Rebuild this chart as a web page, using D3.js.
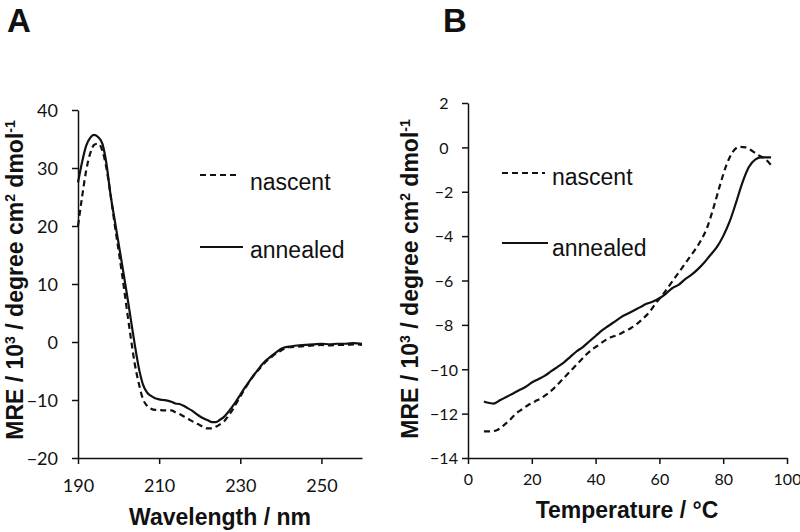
<!DOCTYPE html>
<html><head><meta charset="utf-8">
<script src="https://cdn.jsdelivr.net/npm/d3@7"></script>
<style>body{margin:0;background:#fff}svg{display:block}</style>
</head><body><svg id="c" width="800" height="532"></svg>
<script>
// ---------- Panel A: CD spectra ----------
const wavelengthA = [190,191,192,193,194,195,196,197,198,199,200,201,202,203,204,205,206,207,208,209,
  210,211,212,213,214,215,216,217,218,219,220,221,222,223,224,225,226,227,228,229,
  230,231,232,233,234,235,236,237,238,239,240,241,242,244,246,248,250,252,254,256,258,260];
const annealedA = [27.5,31,33.8,35.2,35.7,35.3,34.2,30.8,25.5,21.2,17,12.8,8.5,4,-0.5,-4.5,-7.3,-8.7,-9.3,-9.7,
  -9.9,-10,-10.1,-10.3,-10.6,-10.7,-11,-11.4,-11.8,-12.3,-12.8,-13.2,-13.5,-13.8,-13.8,-13.4,-12.9,-12.1,-11.2,-10.2,
  -9.1,-8,-7,-6,-5.1,-4.2,-3.4,-2.8,-2.2,-1.7,-1.2,-0.9,-0.8,-0.6,-0.5,-0.4,-0.3,-0.4,-0.3,-0.3,-0.2,-0.3];
const nascentA = [20,25,29.5,32.5,34,34.2,33,30,25.5,20.5,15.8,11,5.8,0.8,-3.8,-7.2,-9.8,-11,-11.5,-11.7,
  -11.7,-11.8,-11.8,-11.8,-12.1,-12.4,-12.8,-13.2,-13.6,-14,-14.3,-14.7,-14.9,-14.9,-14.6,-14.2,-13.7,-12.8,-11.8,-10.6,
  -9.4,-8.2,-7.1,-6.1,-5.2,-4.4,-3.6,-3,-2.4,-1.9,-1.5,-1.1,-0.9,-0.8,-0.7,-0.6,-0.5,-0.6,-0.5,-0.5,-0.4,-0.5];
const xTicksA = [190,210,230,250];
const yTicksA = [-20,-10,0,10,20,30,40];

// ---------- Panel B: thermal melt ----------
const tempAnnealedB = [5,6,8,10,12,14,16,18,20,22,24,26,28,30,32,34,36,38,40,42,44,46,48,50,
  52,54,56,58,60,62,64,66,68,70,72,74,76,78,80,82,84,86,88,90,92,94,95];
const annealedB = [-11.45,-11.5,-11.55,-11.4,-11.25,-11.1,-10.95,-10.8,-10.6,-10.45,-10.3,-10.1,-9.9,-9.7,-9.45,-9.2,-9.0,-8.75,-8.5,-8.25,-8.05,-7.85,-7.65,-7.5,
  -7.35,-7.2,-7.05,-6.95,-6.8,-6.6,-6.35,-6.2,-5.95,-5.75,-5.5,-5.2,-4.85,-4.5,-4.0,-3.35,-2.5,-1.6,-0.9,-0.55,-0.45,-0.45,-0.45];
const tempNascentB = [5,7,9,11,13,15,17,19,21,23,25,27,29,31,33,35,37,39,41,43,45,47,49,51,
  53,55,57,59,61,63,65,67,69,71,73,75,77,79,81,83,85,87,89,91,93,95];
const nascentB = [-12.8,-12.8,-12.75,-12.55,-12.3,-12.0,-11.8,-11.6,-11.45,-11.3,-11.1,-10.85,-10.55,-10.25,-9.95,-9.65,-9.35,-9.1,-8.9,-8.7,-8.55,-8.45,-8.3,-8.15,
  -7.95,-7.7,-7.4,-7.0,-6.65,-6.25,-5.85,-5.45,-5.05,-4.65,-4.2,-3.6,-2.7,-1.7,-0.8,-0.2,0.02,0.0,-0.15,-0.35,-0.5,-0.8];
const xTicksB = [0,20,40,60,80,100];
const yTicksB = [-14,-12,-10,-8,-6,-4,-2,0,2];

const seriesNames = ["nascent","annealed"];

const svg = d3.select("#c");
const INK = "#111";
const tickFont = "Lato, 'Open Sans', sans-serif";
const boldFont = "'Liberation Sans', Arial, sans-serif";

function yTitle(g, x, y) {
  const t = g.append("text").attr("transform", `translate(${x},${y}) rotate(-90)`)
    .attr("text-anchor","middle").attr("font-family", boldFont).attr("font-weight","bold")
    .attr("font-size", 23).attr("fill", INK);
  t.append("tspan").text("MRE / 10");
  t.append("tspan").text("3").attr("font-size", 14).attr("dy", -8);
  t.append("tspan").text(" / degree cm").attr("dy", 8);
  t.append("tspan").text("2").attr("font-size", 14).attr("dy", -8);
  t.append("tspan").text(" dmol").attr("dy", 8);
  t.append("tspan").text("-1").attr("font-size", 14).attr("dy", -8);
}

function legend(g, x0, x1, tx, yDash, yDashText, ySolid, ySolidText) {
  g.append("line").attr("x1", x0).attr("x2", x1).attr("y1", yDash).attr("y2", yDash)
    .attr("stroke", INK).attr("stroke-width", 2).attr("stroke-dasharray", "6,4");
  g.append("line").attr("x1", x0).attr("x2", x1 + 3).attr("y1", ySolid).attr("y2", ySolid)
    .attr("stroke", INK).attr("stroke-width", 2);
  g.append("text").attr("x", tx).attr("y", yDashText).text(seriesNames[0])
    .attr("font-family", boldFont).attr("font-size", 23).attr("fill", INK);
  g.append("text").attr("x", tx).attr("y", ySolidText).text(seriesNames[1])
    .attr("font-family", boldFont).attr("font-size", 23).attr("fill", INK);
}

function styleAxis(a, size) {
  a.selectAll("path.domain").attr("stroke", INK).attr("stroke-width", 1.5);
  a.selectAll(".tick line").attr("stroke", INK).attr("stroke-width", 1.5);
  a.selectAll(".tick text").attr("font-family", tickFont).attr("font-size", size).attr("fill", INK);
}

// ===== Panel A =====
{
  const g = svg.append("g");
  const x = d3.scaleLinear().domain([190, 260]).range([78, 362]);
  const y = d3.scaleLinear().domain([-20, 40]).range([458, 110]);

  const ax = g.append("g").attr("transform", `translate(0,${y(-20)})`)
    .call(d3.axisBottom(x).tickValues(xTicksA).tickSize(6).tickSizeOuter(0).tickPadding(15));
  styleAxis(ax, 18);
  const ay = g.append("g").attr("transform", `translate(${x(190)},0)`)
    .call(d3.axisLeft(y).tickValues(yTicksA).tickSize(6).tickSizeOuter(0).tickPadding(14));
  styleAxis(ay, 18);
  ay.selectAll(".tick text").attr("dy", "0.36em");

  const line = d3.line().x((d,i) => x(wavelengthA[i])).y(d => y(d)).curve(d3.curveMonotoneX);
  g.append("path").datum(nascentA).attr("d", line).attr("fill","none")
    .attr("stroke", INK).attr("stroke-width", 2.2).attr("stroke-dasharray","6,4");
  g.append("path").datum(annealedA).attr("d", line).attr("fill","none")
    .attr("stroke", INK).attr("stroke-width", 2.2);

  g.append("text").attr("x", 220).attr("y", 525).attr("text-anchor","middle")
    .attr("font-family", boldFont).attr("font-weight","bold").attr("font-size", 23)
    .attr("fill", INK).text("Wavelength / nm");
  yTitle(g, 23, 280);
  legend(g, 200, 240, 250, 175, 190, 247, 258);
  g.append("text").attr("x", 7).attr("y", 32).text("A")
    .attr("font-family", boldFont).attr("font-weight","bold").attr("font-size", 33).attr("fill", INK);
}

// ===== Panel B =====
{
  const g = svg.append("g");
  const x = d3.scaleLinear().domain([0, 100]).range([468, 787]);
  const y = d3.scaleLinear().domain([-14, 2]).range([458, 103]);

  const ax = g.append("g").attr("transform", `translate(0,${y(-14)})`)
    .call(d3.axisBottom(x).tickValues(xTicksB).tickSize(6).tickSizeOuter(0).tickPadding(10));
  styleAxis(ax, 16);
  const ay = g.append("g").attr("transform", `translate(${x(0)},0)`)
    .call(d3.axisLeft(y).tickValues(yTicksB).tickSize(6).tickSizeOuter(0).tickPadding(8));
  styleAxis(ay, 16);
  ay.selectAll(".tick text").attr("text-anchor","middle").attr("x", -24).attr("dy","0.36em");

  const lineA = d3.line().x((d,i) => x(tempAnnealedB[i])).y(d => y(d)).curve(d3.curveMonotoneX);
  const lineN = d3.line().x((d,i) => x(tempNascentB[i])).y(d => y(d)).curve(d3.curveMonotoneX);
  g.append("path").datum(nascentB).attr("d", lineN).attr("fill","none")
    .attr("stroke", INK).attr("stroke-width", 2.2).attr("stroke-dasharray","6,4");
  g.append("path").datum(annealedB).attr("d", lineA).attr("fill","none")
    .attr("stroke", INK).attr("stroke-width", 2.2);

  g.append("text").attr("x", 627).attr("y", 518).attr("text-anchor","middle")
    .attr("font-family", boldFont).attr("font-weight","bold").attr("font-size", 23)
    .attr("fill", INK).text("Temperature / °C");
  yTitle(g, 418, 279);
  legend(g, 502, 545, 552, 173, 185, 243, 256);
  g.append("text").attr("x", 443).attr("y", 32).text("B")
    .attr("font-family", boldFont).attr("font-weight","bold").attr("font-size", 33).attr("fill", INK);
}
</script></body></html>
